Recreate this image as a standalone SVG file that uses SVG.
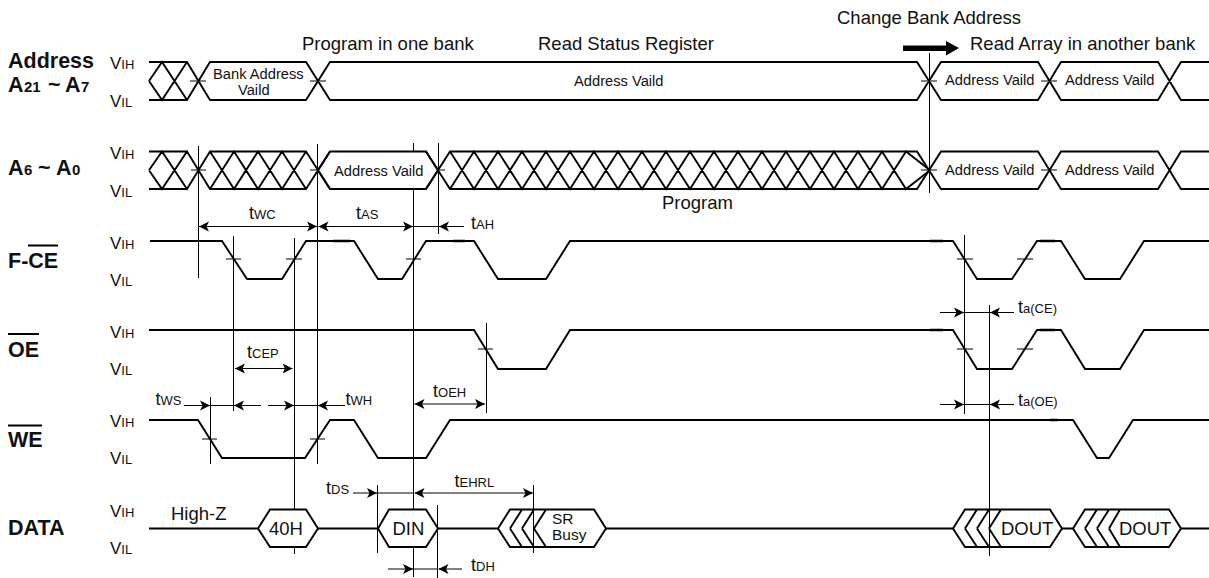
<svg xmlns="http://www.w3.org/2000/svg" width="1209" height="578" viewBox="0 0 1209 578">
<style>
text{font-family:"Liberation Sans",Arial,sans-serif;fill:#111}
.name{font-size:21.5px;font-weight:bold}
.nsub{font-size:15px}
.lv{font-size:17px}
.sub{font-size:13px}
.cap{font-size:18.500px}
.in{font-size:14.700px}
.dt{font-size:18.500px}
.sr{font-size:15.500px}
.t{font-size:18px}
.sig{fill:none;stroke:#000;stroke-width:1.900;stroke-linejoin:miter}
.box{fill:#fff;stroke:#000;stroke-width:1.900}
.v{stroke:#000;stroke-width:1;fill:none}
.tick{stroke:#000;stroke-width:1;fill:none}
.a{stroke:#000;stroke-width:1;fill:none}
.aa{marker-start:url(#ah);marker-end:url(#ah)}
.ae{marker-end:url(#ah)}
.ov{stroke:#000;stroke-width:2;fill:none}
.stub{stroke:#000;stroke-width:2.500;fill:none}
</style>
<defs>
<marker id="ah" markerUnits="userSpaceOnUse" markerWidth="11" markerHeight="11" refX="10" refY="5.500" orient="auto-start-reverse"><path d="M10 5.500L0 0.500L2.500 5.500L0 10.500z" fill="#000"/></marker>
</defs>
<rect width="1209" height="578" fill="#fff"/>

<g id="connectors">
<path class="v" d="M198.500 146V278M317.500 144V464M413.500 143V577M294.500 238V554M233.500 236V411M438.500 143V234M486.500 323V413M210.500 397V464M377.500 485V553M437.500 505V578M533.500 485V553M929.500 53V193M964.500 235V414M989.500 305V556"/>
<path class="tick" d="M190 81H206M310 81H326M921 81H937M1041 81H1057M191 170H206M310 170H326M430 170H445M921 170H937M1041 170H1057M226 259H241M286 259H302M406 259H421M957 259H973M1017 259H1033M478 349H493M957 349H973M1017 349H1033M202 439H217M310 439H325"/>
<path class="a aa" d="M199 226.500H317"/>
<path class="a aa" d="M318.500 226.500H413"/>
<path class="a ae" d="M464 226.500H439"/>
<path class="a" d="M413 226.500H439"/>
<path class="a aa" d="M235 368.500H292.500"/>
<path class="a ae" d="M184 405.500H210"/>
<path class="a" d="M210 405.500H234"/>
<path class="a ae" d="M261 405.500H234"/>
<path class="a ae" d="M268 405.500H294"/>
<path class="a" d="M294 405.500H318"/>
<path class="a ae" d="M345 405.500H318"/>
<path class="a aa" d="M414.500 404H485"/>
<path class="a ae" d="M353 493H377"/>
<path class="a" d="M377 493H414"/>
<path class="a aa" d="M414.500 493H533"/>
<path class="a ae" d="M388 569H413"/>
<path class="a" d="M413 569H438"/>
<path class="a ae" d="M462 569H438.500"/>
<path class="a ae" d="M940 312.500H964"/>
<path class="a" d="M964 312.500H989"/>
<path class="a ae" d="M1014 312.500H990"/>
<path class="a ae" d="M940 404.500H964"/>
<path class="a" d="M964 404.500H989"/>
<path class="a ae" d="M1014 404.500H990"/>
<path id="bank-arrow" d="M903 45.500H946V41L959 48L946 55.500V51H903z" fill="#000"/>
</g>

<g id="labels">
<text class="cap" x="302" y="50">Program in one bank</text>
<text class="cap" x="538" y="50">Read Status Register</text>
<text class="cap" x="837" y="24">Change Bank Address</text>
<text class="cap" x="970" y="50">Read Array in another bank</text>
<text class="cap" x="662" y="209">Program</text>
<text class="cap" x="171" y="520">High-Z</text>
</g>

<g id="sig-address">
<text class="name" x="8" y="68">Address</text>
<text class="name" x="8" y="92">A<tspan class="nsub" x="24">21</tspan><tspan x="48">~</tspan><tspan x="65">A</tspan><tspan class="nsub" x="81">7</tspan></text>
<text class="lv" x="110" y="69">V<tspan class="sub">IH</tspan></text>
<text class="lv" x="110" y="107">V<tspan class="sub">IL</tspan></text>
<path class="sig" d="M149 62H187L210 100H306L330 62H917L941 100H1038L1061 62H1158L1181 100H1209M149 100H187L210 62H306L330 100H917L941 62H1038L1061 100H1158L1181 62H1209M149 81L162 62L187 100M149 81L162 100L187 62"/>
<text class="in" x="213" y="79">Bank Address</text>
<text class="in" x="238" y="95">Vaild</text>
<text class="in" x="574" y="86">Address Vaild</text>
<text class="in" x="945" y="85">Address Vaild</text>
<text class="in" x="1065" y="85">Address Vaild</text>
</g>

<g id="sig-a6-a0">
<text class="name" x="8" y="175">A<tspan class="nsub" x="24">6</tspan><tspan x="38">~</tspan><tspan x="56">A</tspan><tspan class="nsub" x="72">0</tspan></text>
<text class="lv" x="110" y="159">V<tspan class="sub">IH</tspan></text>
<text class="lv" x="110" y="197">V<tspan class="sub">IL</tspan></text>
<path class="box" d="M318 170.250L330 151.500H426L438 170.250L426 189H330z"/>
<path class="sig" d="M149 151.500H187M149 189H187M149 170.250L162 151.500L187 189L210 151.500H306L330 189M149 170.250L162 189L187 151.500L210 189H306L330 151.500M210 151.500L234 189L258 151.500L282 189L306 151.500M210 189L234 151.500L258 189L282 151.500L306 189"/>
<path class="sig" d="M426 151.500L450 189H917L941 151.500H1038L1061 189H1158L1181 151.500H1209M426 189L450 151.500H917L941 189H1038L1061 151.500H1158L1181 189H1209"/>
<path class="sig" d="M450 151.500l24 37.500l24 -37.500l24 37.500l24 -37.500l24 37.500l24 -37.500l24 37.500l24 -37.500l24 37.500l24 -37.500l24 37.500l24 -37.500l24 37.500l24 -37.500l24 37.500l24 -37.500l24 37.500l24 -37.500l24 37.500l24 -18.750M450 189l24 -37.500l24 37.500l24 -37.500l24 37.500l24 -37.500l24 37.500l24 -37.500l24 37.500l24 -37.500l24 37.500l24 -37.500l24 37.500l24 -37.500l24 37.500l24 -37.500l24 37.500l24 -37.500l24 37.500l24 -37.500l24 18.750"/>
<text class="in" x="334" y="175.500">Address Vaild</text>
<text class="in" x="945" y="175">Address Vaild</text>
<text class="in" x="1065" y="175">Address Vaild</text>
</g>

<g id="sig-f-ce">
<text class="name" x="8" y="268">F-CE</text>
<path class="ov" d="M28 245.500H58"/>
<text class="lv" x="110" y="249">V<tspan class="sub">IH</tspan></text>
<text class="lv" x="110" y="286">V<tspan class="sub">IL</tspan></text>
<path class="sig" d="M150 241H222L247 279H282L306 241H354L378 279H402L426 241H474L498 279H546L570 241H953L977 279H1012L1037 241H1061L1085 279H1120L1144 241H1209"/>
<path class="stub" d="M333 241H350M453 241H465M930 241H943M1040 241H1055"/>
</g>

<g id="sig-oe">
<text class="name" x="8" y="357">OE</text>
<path class="ov" d="M8 334H39"/>
<text class="lv" x="110" y="338">V<tspan class="sub">IH</tspan></text>
<text class="lv" x="110" y="375">V<tspan class="sub">IL</tspan></text>
<path class="sig" d="M149 330H474L498 369H546L570 330H953L977 369H1012L1037 330H1061L1085 369H1120L1144 330H1209"/>
<path class="stub" d="M930 330H943M1040 330H1055"/>
</g>

<g id="sig-we">
<text class="name" x="8" y="447">WE</text>
<path class="ov" d="M8 425.500H42"/>
<text class="lv" x="110" y="427">V<tspan class="sub">IH</tspan></text>
<text class="lv" x="110" y="464">V<tspan class="sub">IL</tspan></text>
<path class="sig" d="M149 420H198L222 458H305L330 420H354L378 458H426L450 420H1073L1097 458H1109L1133 420H1209"/>
<path class="stub" d="M1050 420H1058"/>
</g>

<g id="sig-data">
<text class="name" x="8" y="535">DATA</text>
<text class="lv" x="110" y="517">V<tspan class="sub">IH</tspan></text>
<text class="lv" x="110" y="554">V<tspan class="sub">IL</tspan></text>
<path class="sig" d="M149 528.500H258M318 528.500H378M438 528.500H498M606 528.500H953M1062 528.500H1073M1181 528.500H1209"/>
<path class="box" d="M258 528.500L270 509.500H306L318 528.500L306 547H270z"/>
<path class="box" d="M378 528.500L389 509.500H426L438 528.500L426 547H389z"/>
<path class="sig" d="M498 528.500L510 509.500H594L606 528.500L594 547H510zM510 528.500L522 509.500M510 528.500L522 547M522 528.500L534 509.500M522 528.500L534 547M534 528.500L546 509.500M534 528.500L546 547"/>
<path class="sig" d="M953 528.500L965 509.500H1050L1062 528.500L1050 547H965zM965 528.500L977 509.500M965 528.500L977 547M977 528.500L989 509.500M977 528.500L989 547M989 528.500L1001 509.500M989 528.500L1001 547"/>
<path class="sig" d="M1073 528.500L1085 509.500H1169L1181 528.500L1169 547H1085zM1085 528.500L1097 509.500M1085 528.500L1097 547M1097 528.500L1109 509.500M1097 528.500L1109 547M1109 528.500L1120 509.500M1109 528.500L1120 547"/>
<text class="dt" x="269" y="534.500">40H</text>
<text class="dt" x="392.500" y="534.500">DIN</text>
<text class="sr" x="552" y="524">SR</text>
<text class="sr" x="552" y="540">Busy</text>
<text class="dt" x="1001" y="534.500">DOUT</text>
<text class="dt" x="1119" y="534.500">DOUT</text>
</g>

<g id="timings">
<text class="t" x="249" y="219">t<tspan class="sub">WC</tspan></text>
<text class="t" x="356" y="219">t<tspan class="sub">AS</tspan></text>
<text class="t" x="471" y="229">t<tspan class="sub">AH</tspan></text>
<text class="t" x="247" y="358">t<tspan class="sub">CEP</tspan></text>
<text class="t" x="155.500" y="405">t<tspan class="sub">WS</tspan></text>
<text class="t" x="345.500" y="405">t<tspan class="sub">WH</tspan></text>
<text class="t" x="433" y="397">t<tspan class="sub">OEH</tspan></text>
<text class="t" x="326" y="494">t<tspan class="sub">DS</tspan></text>
<text class="t" x="454.500" y="487">t<tspan class="sub">EHRL</tspan></text>
<text class="t" x="471" y="571">t<tspan class="sub">DH</tspan></text>
<text class="t" x="1018" y="313">t<tspan class="sub">a(CE)</tspan></text>
<text class="t" x="1018" y="406">t<tspan class="sub">a(OE)</tspan></text>
</g>
</svg>
